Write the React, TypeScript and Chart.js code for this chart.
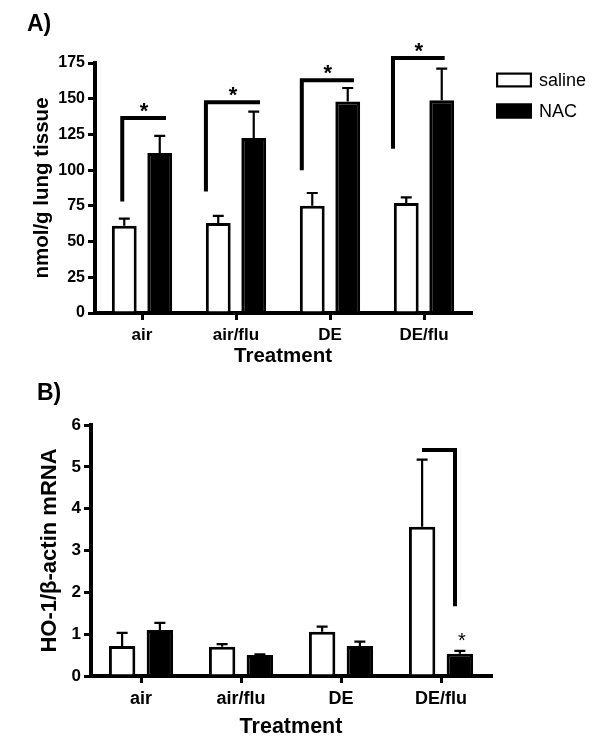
import React, { useEffect, useRef } from "react";
import { Chart, registerables } from "chart.js";

Chart.register(...registerables);

// ---------- data ----------
const categories = ["air", "air/flu", "DE", "DE/flu"];
const seriesLabels = ["saline", "NAC"];

// Panel A: nmol/g lung tissue
const gshTicks = [0, 25, 50, 75, 100, 125, 150, 175];
const gshSaline = [61, 63, 75, 77];
const gshSalineSem = [5, 5, 9, 4];
const gshNac = [112, 122.5, 148, 149];
const gshNacSem = [12, 18.5, 9.5, 22];
const gshSigLow = [78, 85, 100, 115];
const gshSigHigh = [136.5, 147.5, 163, 178.5];

// Panel B: HO-1/beta-actin mRNA
const hoTicks = [0, 1, 2, 3, 4, 5, 6];
const hoSaline = [0.72, 0.7, 1.06, 3.57];
const hoSalineSem = [0.31, 0.06, 0.12, 1.6];
const hoNac = [1.1, 0.5, 0.72, 0.53];
const hoNacSem = [0.17, 0.02, 0.1, 0.07];
const hoSigCategory = 3;
const hoSigHigh = 5.4;
const hoSigLow = 1.67;
const hoStarValue = 0.93;

const FONT = "'Liberation Sans', Arial, sans-serif";

type PanelCfg = {
  saline: number[];
  salineSem: number[];
  nac: number[];
  nacSem: number[];
  ticks: number[];
  yTitle: string;
  yTitleSize: number;
  yTickSize: number;
  xTickSize: number;
  xTitleSize: number;
  xTickPad: number;
  yWidth: number;
  yTitlePad: number;
  xHeight: number;
  xTitlePad: number;
  padTop: number;
  padRight: number;
  overlay: (chart: any) => void;
};

function drawErrorBars(chart: any, sems: number[][]) {
  const ctx = chart.ctx;
  const y = chart.scales.y;
  ctx.save();
  ctx.strokeStyle = "#000";
  ctx.lineWidth = 2.2;
  sems.forEach((s, di) => {
    const meta = chart.getDatasetMeta(di);
    meta.data.forEach((bar: any, i: number) => {
      const v = chart.data.datasets[di].data[i] as number;
      const top = y.getPixelForValue(v + s[i]);
      ctx.beginPath();
      ctx.moveTo(bar.x, bar.y);
      ctx.lineTo(bar.x, top);
      ctx.moveTo(bar.x - 5.5, top);
      ctx.lineTo(bar.x + 5.5, top);
      ctx.stroke();
    });
  });
  ctx.restore();
}

// bracket horizontal extents in category units (layout only)
const bracketLeftA = [-0.21, -0.32, -0.3, -0.33];
const bracketRightA = [0.255, 0.255, 0.255, 0.22];

function overlayA(chart: any) {
  drawErrorBars(chart, [gshSalineSem, gshNacSem]);
  const ctx = chart.ctx;
  const x = chart.scales.x;
  const y = chart.scales.y;
  const unit = x.getPixelForValue(1) - x.getPixelForValue(0);
  ctx.save();
  ctx.strokeStyle = "#000";
  ctx.fillStyle = "#000";
  ctx.lineWidth = 4;
  ctx.lineJoin = "miter";
  ctx.lineCap = "butt";
  categories.forEach((_, i) => {
    const cx = x.getPixelForValue(i);
    const xl = cx + bracketLeftA[i] * unit;
    const xr = cx + bracketRightA[i] * unit;
    const yl = y.getPixelForValue(gshSigLow[i]);
    const yh = y.getPixelForValue(gshSigHigh[i]);
    ctx.beginPath();
    ctx.moveTo(xl, yl);
    ctx.lineTo(xl, yh);
    ctx.lineTo(xr, yh);
    ctx.stroke();
    ctx.font = `bold 22px ${FONT}`;
    ctx.textAlign = "center";
    ctx.textBaseline = "alphabetic";
    ctx.fillText("*", (xl + xr) / 2, yh);
  });
  // legend
  const lx = chart.chartArea.right + 25;
  const rows = [chart.chartArea.top + 17, chart.chartArea.top + 48];
  chart.data.datasets.forEach((ds: any, i: number) => {
    const cy = rows[i];
    ctx.fillStyle = ds.backgroundColor;
    ctx.fillRect(lx, cy - 7.5, 36, 15);
    ctx.lineWidth = 2.2;
    ctx.strokeStyle = "#000";
    ctx.strokeRect(lx + 1.1, cy - 6.4, 33.8, 12.8);
    ctx.fillStyle = "#000";
    ctx.font = `18px ${FONT}`;
    ctx.textAlign = "left";
    ctx.textBaseline = "middle";
    ctx.fillText(ds.label, lx + 43, cy + 1);
  });
  ctx.restore();
}

function overlayB(chart: any) {
  drawErrorBars(chart, [hoSalineSem, hoNacSem]);
  const ctx = chart.ctx;
  const x = chart.scales.x;
  const y = chart.scales.y;
  const unit = x.getPixelForValue(1) - x.getPixelForValue(0);
  const cx = x.getPixelForValue(hoSigCategory);
  const xl = cx - 0.19 * unit;
  const xr = cx + 0.14 * unit;
  const yh = y.getPixelForValue(hoSigHigh);
  const yl = y.getPixelForValue(hoSigLow);
  ctx.save();
  ctx.strokeStyle = "#000";
  ctx.fillStyle = "#000";
  ctx.lineWidth = 4;
  ctx.lineJoin = "miter";
  ctx.beginPath();
  ctx.moveTo(xl, yh);
  ctx.lineTo(xr, yh);
  ctx.lineTo(xr, yl);
  ctx.stroke();
  const nacBar: any = chart.getDatasetMeta(1).data[hoSigCategory];
  ctx.font = `20px ${FONT}`;
  ctx.textAlign = "center";
  ctx.textBaseline = "middle";
  ctx.fillText("*", nacBar.x + 2, y.getPixelForValue(hoStarValue) + 4);
  ctx.restore();
}

function buildConfig(p: PanelCfg): any {
  return {
    type: "bar",
    data: {
      labels: categories,
      datasets: [
        {
          label: seriesLabels[0],
          data: p.saline,
          backgroundColor: "#ffffff",
          borderColor: "#000000",
          borderWidth: 3,
        },
        {
          label: seriesLabels[1],
          data: p.nac,
          backgroundColor: "#000000",
          borderColor: "#000000",
          borderWidth: 3,
        },
      ],
    },
    options: {
      responsive: false,
      animation: false,
      devicePixelRatio: 1,
      layout: { padding: { left: 0, top: p.padTop, right: p.padRight, bottom: 0 } },
      datasets: { bar: { categoryPercentage: 0.755, barPercentage: 0.7 } },
      plugins: { legend: { display: false }, tooltip: { enabled: false } },
      scales: {
        x: {
          type: "category",
          grid: {
            display: true,
            drawOnChartArea: false,
            drawTicks: true,
            offset: false,
            tickLength: 7,
            lineWidth: 3,
            color: "#000",
          },
          border: { display: true, width: 4, color: "#000" },
          ticks: {
            font: { family: FONT, size: p.xTickSize, weight: "bold" },
            color: "#000",
            padding: p.xTickPad,
            maxRotation: 0,
          },
          title: {
            display: true,
            text: "Treatment",
            font: { family: FONT, size: p.xTitleSize, weight: "bold" },
            color: "#000",
            padding: { top: 0, bottom: p.xTitlePad },
          },
          afterFit: (s: any) => {
            s.height = p.xHeight;
          },
        },
        y: {
          min: p.ticks[0],
          max: p.ticks[p.ticks.length - 1],
          afterBuildTicks: (s: any) => {
            s.ticks = p.ticks.map((v) => ({ value: v }));
          },
          grid: {
            display: true,
            drawOnChartArea: false,
            drawTicks: true,
            tickLength: 7,
            lineWidth: 3,
            color: "#000",
          },
          border: { display: true, width: 4, color: "#000" },
          ticks: {
            font: { family: FONT, size: p.yTickSize, weight: "bold" },
            color: "#000",
            padding: 3,
          },
          title: {
            display: true,
            text: p.yTitle,
            font: { family: FONT, size: p.yTitleSize, weight: "bold" },
            color: "#000",
            padding: { top: p.yTitlePad, bottom: 0 },
          },
          afterFit: (s: any) => {
            s.width = p.yWidth;
          },
        },
      },
    },
    plugins: [{ id: "overlay", afterDatasetsDraw: (c: any) => p.overlay(c) }],
  };
}

function Panel({ cfg, top }: { cfg: PanelCfg; top: number }) {
  const ref = useRef<HTMLCanvasElement | null>(null);
  useEffect(() => {
    if (!ref.current) return;
    const chart = new Chart(ref.current, buildConfig(cfg));
    return () => chart.destroy();
  }, [cfg]);
  return (
    <canvas
      ref={ref}
      width={600}
      height={375}
      style={{ position: "absolute", left: 0, top, width: 600, height: 375 }}
    />
  );
}

const panelA: PanelCfg = {
  saline: gshSaline,
  salineSem: gshSalineSem,
  nac: gshNac,
  nacSem: gshNacSem,
  ticks: gshTicks,
  yTitle: "nmol/g lung tissue",
  yTitleSize: 20.5,
  yTickSize: 16,
  xTickSize: 17,
  xTitleSize: 20.5,
  xTickPad: 5.5,
  yWidth: 95,
  yTitlePad: 30.5,
  xHeight: 62,
  xTitlePad: 6.7,
  padTop: 63,
  padRight: 129,
  overlay: overlayA,
};

const panelB: PanelCfg = {
  saline: hoSaline,
  salineSem: hoSalineSem,
  nac: hoNac,
  nacSem: hoNacSem,
  ticks: hoTicks,
  yTitle: "HO-1/\u03b2-actin mRNA",
  yTitleSize: 22,
  yTickSize: 17,
  xTickSize: 18,
  xTitleSize: 21.5,
  xTickPad: 5,
  yWidth: 91,
  yTitlePad: 36.5,
  xHeight: 74,
  xTitlePad: 10,
  padTop: 50,
  padRight: 109,
  overlay: overlayB,
};

export default function App() {
  return (
    <div
      style={{
        position: "fixed",
        left: 0,
        top: 0,
        width: 600,
        height: 750,
        background: "#fff",
        fontFamily: FONT,
        overflow: "hidden",
      }}
    >
      <Panel cfg={panelA} top={0} />
      <Panel cfg={panelB} top={375} />
      <div style={{ position: "absolute", left: 27, top: 10, fontSize: 23, fontWeight: "bold", color: "#000" }}>
        A)
      </div>
      <div style={{ position: "absolute", left: 37, top: 379, fontSize: 23, fontWeight: "bold", color: "#000" }}>
        B)
      </div>
    </div>
  );
}
